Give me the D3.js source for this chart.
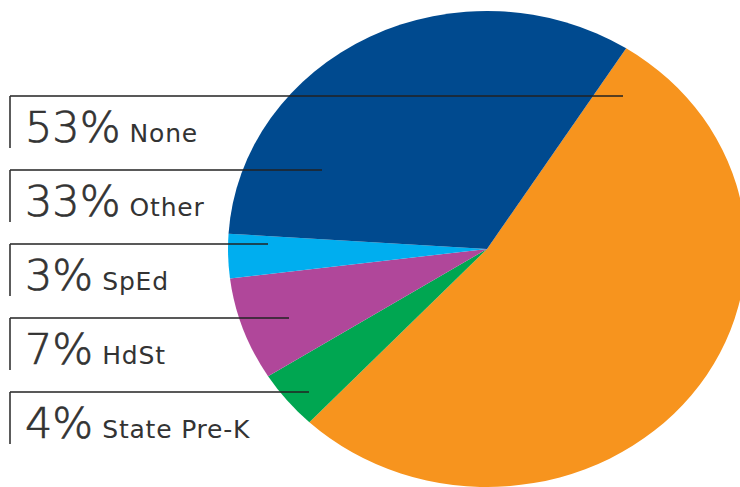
<!DOCTYPE html>
<html>
<head>
<meta charset="utf-8">
<script src="https://cdn.jsdelivr.net/npm/d3@7"></script>
<style>
  html, body { margin: 0; padding: 0; background: #fff; }
  svg { display: block; }
</style>
</head>
<body>
<svg id="chart" width="740" height="487"></svg>
<script>
// slices, clockwise from the top-right edge of "None"
const sliceNames = ['None', 'State Pre-K', 'HdSt', 'SpEd', 'Other'];
const sliceValues = [53, 4, 7, 3, 33];
const sliceColors = ['#f7941e', '#00a651', '#b0479a', '#00aeef', '#004a8f'];

// label stack, top to bottom
const labelNames = ['None', 'Other', 'SpEd', 'HdSt', 'State Pre-K'];
const labelPercents = ['53%', '33%', '3%', '7%', '4%'];

const width = 740, height = 487;
const cx = 487, cy = 249;
const rx = 259, ry = 238;
const startDeg = 32.5;

const svg = d3.select('#chart');

const pie = d3.pie()
    .sort(null)
    .value(d => d.value)
    .startAngle(startDeg * Math.PI / 180)
    .endAngle(startDeg * Math.PI / 180 + 2 * Math.PI);

const arc = d3.arc().innerRadius(0).outerRadius(rx);

const slices = pie(sliceNames.map((name, i) => ({ name, value: sliceValues[i], color: sliceColors[i] })));

const pieG = svg.append('g')
    .attr('transform', `translate(${cx},${cy}) scale(1,${ry / rx})`);

pieG.selectAll('path')
    .data(slices)
    .enter()
    .append('path')
    .attr('d', arc)
    .attr('fill', d => d.data.color);

// labels
const y = d3.scaleLinear().domain([0, labelNames.length - 1]).range([96, 392]);
// leader lines reach into their slice
const leaderEnd = d3.scaleOrdinal()
    .domain(labelNames)
    .range([623, 322, 268, 289, 309]);

const labels = svg.append('g')
    .selectAll('g')
    .data(labelNames)
    .enter()
    .append('g')
    .attr('transform', (d, i) => `translate(0,${y(i)})`);

labels.append('line')
    .attr('x1', 10).attr('x2', d => leaderEnd(d))
    .attr('y1', 0).attr('y2', 0)
    .attr('stroke', '#222')
    .attr('stroke-width', 1.6);

labels.append('line')
    .attr('x1', 10).attr('x2', 10)
    .attr('y1', 0).attr('y2', 52)
    .attr('stroke', '#333')
    .attr('stroke-width', 1.6);

const txt = labels.append('text')
    .attr('x', 25)
    .attr('y', 46)
    .attr('fill', '#333')
    .style('font-family', '"DejaVu Sans", Verdana, sans-serif');

txt.append('tspan')
    .style('font-size', '43px')
    .style('font-weight', 200)
    .attr('stroke', '#333')
    .attr('stroke-width', 0.7)
    .text((d, i) => labelPercents[i]);

txt.append('tspan')
    .attr('dx', 9)
    .style('font-size', '25px')
    .style('letter-spacing', '0.8px')
    .text(d => d);
</script>
</body>
</html>
